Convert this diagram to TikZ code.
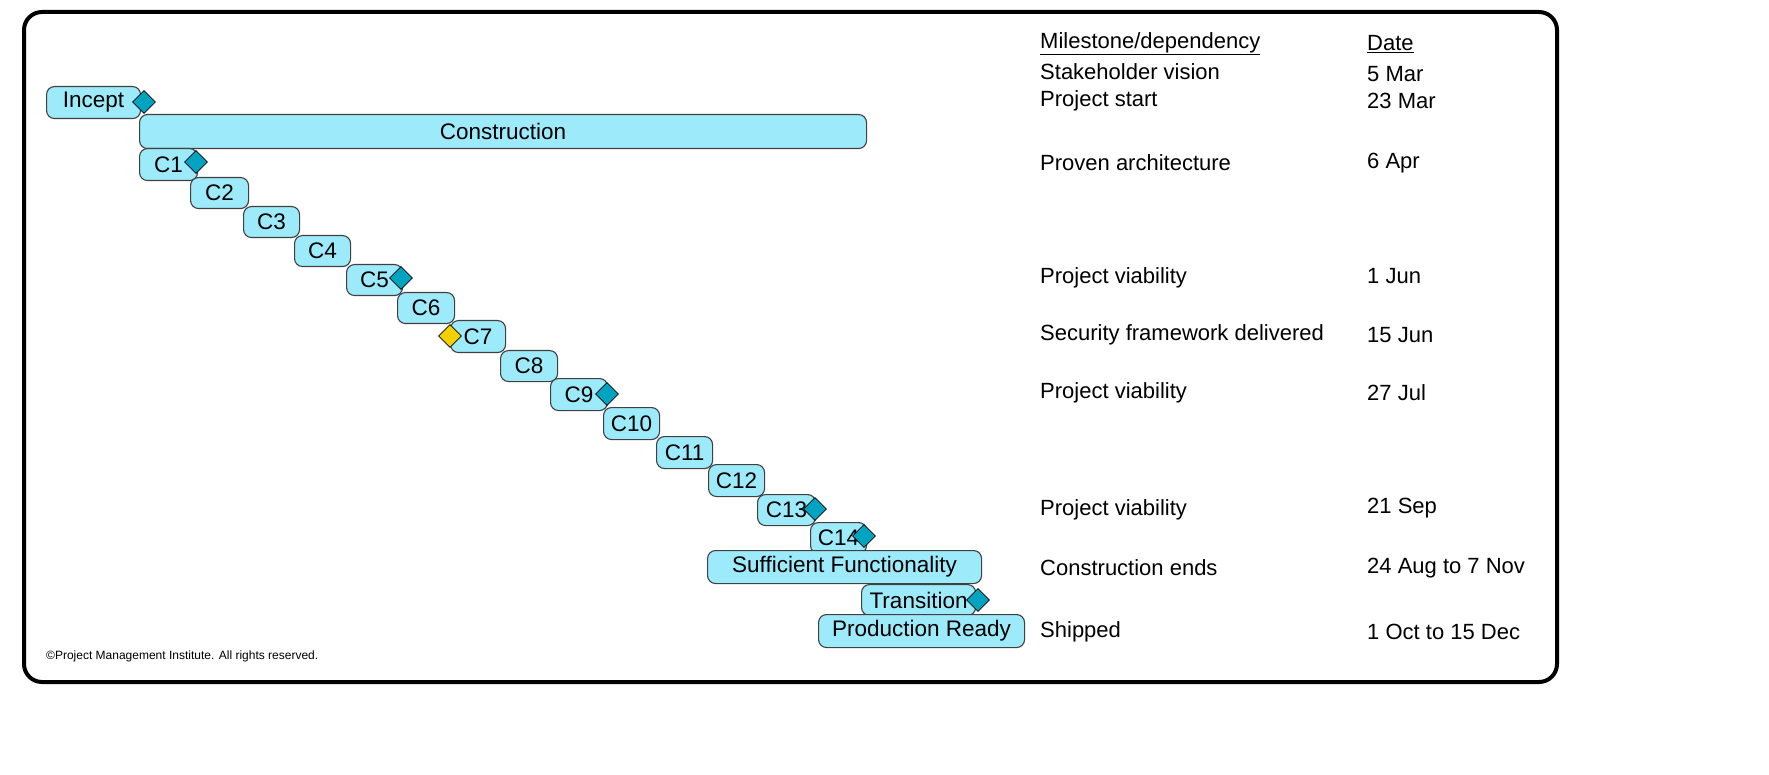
\documentclass[tikz,border=0pt]{standalone}
\usepackage{fontspec}
\setmainfont{Liberation Sans}
\usetikzlibrary{shapes.geometric}
\definecolor{barfill}{HTML}{9DEBFA}
\definecolor{msfill}{HTML}{00A3C0}
\definecolor{ylw}{HTML}{F2D000}
\tikzset{
 bar/.style={draw=black!75,fill=barfill,rounded corners=8pt,line width=1.1pt,anchor=north west,inner sep=0pt,font=\fontsize{22.5}{23}\selectfont},
 ms/.style={diamond,draw=black,fill=msfill,line width=0.8pt,minimum width=23pt,minimum height=23pt,inner sep=0pt},
 lbl/.style={anchor=west,font=\fontsize{22}{23}\selectfont,inner sep=0pt},
}
\newcommand{\mybar}[6]{\node[bar,minimum width={(#4-#2)*1pt},minimum height={(#5-#3)*1pt}] (#1) at (#2,#3) {#6};}
\begin{document}
\begin{tikzpicture}[x=1pt,y=-1pt]
\draw[line width=4pt,rounded corners=18pt] (24,12) rectangle (1557,682);
\mybar{incept}{46}{86}{140}{118}{Incept}
\mybar{constr}{139}{114}{866}{148}{Construction}
\mybar{c1}{139}{148}{197}{180}{C1}
\mybar{c2}{190}{177}{248}{208}{C2}
\mybar{c3}{243}{206}{299}{237}{C3}
\mybar{c4}{294}{235}{350}{266}{C4}
\mybar{c5}{346}{264}{402}{295}{C5}
\mybar{c6}{397}{292}{454}{323}{C6}
\mybar{c7}{450}{320}{505}{352}{C7}
\mybar{c8}{500}{350}{557}{381}{C8}
\mybar{c9}{550}{378}{607}{410}{C9}
\mybar{c10}{603}{407}{659}{439}{C10}
\mybar{c11}{656}{436}{712}{468}{C11}
\mybar{c12}{708}{464}{764}{496}{C12}
\mybar{c13}{757}{494}{815}{525}{C13}
\mybar{c14}{810}{522}{866}{553}{C14}
\mybar{suff}{707}{550}{981}{583}{Sufficient Functionality}
\mybar{trans}{861}{584}{975}{615}{Transition}
\mybar{prod}{818}{614}{1024}{647}{Production Ready}
\node[ms] (m0) at (144,102) {};
\node[ms] (m1) at (196,162) {};
\node[ms] (m5) at (401,278) {};
\node[ms,fill=ylw] (m7) at (450,336) {};
\node[ms] (m9) at (607,394) {};
\node[ms] (m13) at (815,509) {};
\node[ms] (m14) at (864,536) {};
\node[ms] (mt) at (978,600) {};
\node[lbl] (h1) at (1040,44) {\underline{Milestone/dependency}};
\node[lbl] (h2) at (1367,44) {\underline{Date}};
\node[lbl] (l1) at (1040,72) {Stakeholder vision};
\node[lbl] (d1) at (1367,74) {5 Mar};
\node[lbl] (l2) at (1040,101) {Project start};
\node[lbl] (d2) at (1367,101) {23 Mar};
\node[lbl] (l3) at (1040,163) {Proven architecture};
\node[lbl] (d3) at (1367,163) {6 Apr};
\node[lbl] (l4) at (1040,278) {Project viability};
\node[lbl] (d4) at (1367,276) {1 Jun};
\node[lbl] (l5) at (1040,335) {Security framework delivered};
\node[lbl] (d5) at (1367,335) {15 Jun};
\node[lbl] (l6) at (1040,393) {Project viability};
\node[lbl] (d6) at (1367,393) {27 Jul};
\node[lbl] (l7) at (1040,510) {Project viability};
\node[lbl] (d7) at (1367,508) {21 Sep};
\node[lbl] (l8) at (1040,568) {Construction ends};
\node[lbl] (d8) at (1367,568) {24 Aug to 7 Nov};
\node[lbl] (l9) at (1040,632) {Shipped};
\node[lbl] (d9) at (1367,632) {1 Oct to 15 Dec};
\node[anchor=west,inner sep=0pt,font=\fontsize{12}{12}\selectfont] (copy) at (46,656) {©Project Management Institute. All rights reserved.};
\pgfresetboundingbox
\path[use as bounding box] (0,0) rectangle (1769,775);
\end{tikzpicture}
\end{document}
